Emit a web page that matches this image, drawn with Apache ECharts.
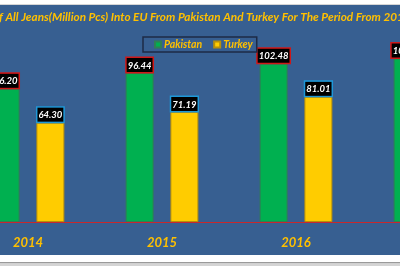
<!DOCTYPE html>
<html>
<head>
<meta charset="utf-8">
<script src="https://cdn.jsdelivr.net/npm/echarts@6/dist/echarts.min.js"></script>
<style>
html,body{margin:0;padding:0;background:#fff;overflow:hidden;width:400px;height:266px;position:relative;}
#chart{position:absolute;left:-40px;top:0;width:540px;height:266px;}
</style>
</head>
<body>
<div id="chart"></div>
<script>
// ---- data ----
const categories = ['2014', '2015', '2016', '2017'];
const pakistan = [86.20, 96.44, 102.48, 105.90];
const turkey = [64.30, 71.19, 81.01, 88.50];
const seriesNames = ['Pakistan', 'Turkey'];
const titlePrefix = 'Import O';
const titleVisible = 'f All Jeans(Million Pcs) Into EU From Pakistan And Turkey For The Period From 201';
const titleSuffix = '4 To 2017';

const FONT = 'Lato, "Liberation Sans", sans-serif';
const GOLD = '#FFC000';
const BG = '#375F91';
const OX = 40; // container offset (container starts 40px left of the page)

const titleFont = 'italic bold 11px ' + FONT;

function render() {
  const cv = document.createElement('canvas').getContext('2d');
  cv.font = titleFont;
  const wPre = cv.measureText(titlePrefix).width;
  const wVis = cv.measureText(titleVisible).width;
  const sx = 405 / wVis;
  const titleX = OX - 1 - wPre * sx;

  const chart = echarts.init(document.getElementById('chart'), null, {renderer: 'canvas'});

  const yMax = 120;
  const pxPerUnit = 1.545;
  const baseY = 222;

  const labelCommon = {
    show: true,
    position: 'top',
    distance: 1,
    color: '#fff',
    fontFamily: FONT,
    fontStyle: 'italic',
    fontWeight: 'bold',
    fontSize: 9.5,
    lineHeight: 11,
    backgroundColor: '#000',
    borderWidth: 1.5,
    padding: [2, 1, 1, 1],
    formatter: p => p.value.toFixed(2)
  };

  chart.setOption({
    backgroundColor: '#fff',
    animation: false,
    graphic: [
      {type: 'rect', z: -10, shape: {x: 0, y: 4, width: 540, height: 1}, style: {fill: '#d6d6d6'}},
      {type: 'rect', z: -10, shape: {x: 0, y: 5, width: 540, height: 250}, style: {fill: BG}},
      {type: 'rect', z: -10, shape: {x: 0, y: 262, width: 540, height: 1.5}, style: {fill: '#9a9a9a'}},
      {type: 'rect', z: -10, shape: {x: 0, y: 263.5, width: 540, height: 3}, style: {fill: '#d4d4d4'}},
      {type: 'text', z: 10, x: titleX, y: 17, scaleX: sx, scaleY: 1,
       style: {text: titlePrefix + titleVisible + titleSuffix, font: titleFont, fill: GOLD,
               verticalAlign: 'middle'}}
    ],
    legend: {
      data: seriesNames,
      left: 143 + OX,
      top: 37,
      orient: 'horizontal',
      icon: 'rect',
      itemWidth: 6,
      itemHeight: 6,
      itemGap: 11,
      padding: [2, 4, 2, 11],
      borderColor: '#1E2B45',
      borderWidth: 1.5,
      textStyle: {color: GOLD, fontFamily: FONT, fontStyle: 'italic', fontWeight: 'bold', fontSize: 10.5, padding: [0, 0, 0, -2]}
    },
    grid: {
      left: OX - 39,
      width: 536,
      top: baseY - yMax * pxPerUnit,
      height: yMax * pxPerUnit,
      containLabel: false
    },
    xAxis: {
      type: 'category',
      data: categories,
      axisLine: {lineStyle: {color: '#C8282D', width: 1}},
      axisTick: {show: false},
      axisLabel: {color: GOLD, fontFamily: FONT, fontStyle: 'italic', fontWeight: 'bold', fontSize: 13, margin: 14}
    },
    yAxis: {
      type: 'value',
      min: 0,
      max: yMax,
      show: false,
      splitLine: {show: false}
    },
    series: [
      {
        name: seriesNames[0],
        type: 'bar',
        data: pakistan,
        barWidth: 28,
        barGap: '60%',
        itemStyle: {color: '#00B050', borderColor: '#2F7F55', borderWidth: 1},
        label: Object.assign({}, labelCommon, {borderColor: '#D01818'})
      },
      {
        name: seriesNames[1],
        type: 'bar',
        data: turkey,
        barWidth: 28,
        itemStyle: {color: '#FFCC00', borderColor: '#B8900A', borderWidth: 1},
        label: Object.assign({}, labelCommon, {borderColor: '#1E98D8'})
      }
    ]
  });
}

if (document.fonts && document.fonts.load) {
  document.fonts.load(titleFont).then(render, render);
} else {
  render();
}
</script>
</body>
</html>
